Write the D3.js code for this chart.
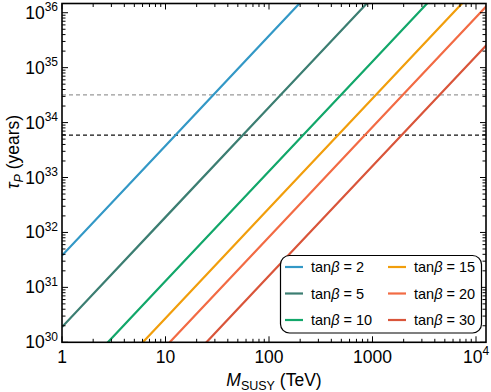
<!DOCTYPE html>
<html><head><meta charset="utf-8">
<script src="https://cdn.jsdelivr.net/npm/d3@7"></script>
<style>body{margin:0;background:#fff}svg{display:block}text{font-family:"Liberation Sans",Arial,sans-serif}</style>
</head><body><svg id="c" width="491" height="392"></svg>
<script>
// Data
const masses = [1, 10, 100, 1000, 10000, 100000];           // M_SUSY (TeV)
const tanBetaLabels = ["2", "5", "10", "15", "20", "30"];
const tau_tb2  = [3.8e31, 3.8e33, 3.8e35, 3.8e37, 3.8e39, 3.8e41];
const tau_tb5  = [1.9e30, 1.9e32, 1.9e34, 1.9e36, 1.9e38, 1.9e40];
const tau_tb10 = [1.3e29, 1.3e31, 1.3e33, 1.3e35, 1.3e37, 1.3e39];
const tau_tb15 = [2.75e28, 2.75e30, 2.75e32, 2.75e34, 2.75e36, 2.75e38];
const tau_tb20 = [8.3e27, 8.3e29, 8.3e31, 8.3e33, 8.3e35, 8.3e37];
const tau_tb30 = [1.62e27, 1.62e29, 1.62e31, 1.62e33, 1.62e35, 1.62e37];
const boundSK = 5.9e33;   // black dashed
const boundHK = 3.2e34;   // gray dashed
const xTickVals = [1, 10, 100, 1000, 10000];
const xTickLabels = ["1", "10", "100", "1000", "10^4"];
const yTickVals = [1e30, 1e31, 1e32, 1e33, 1e34, 1e35, 1e36];
const yTickLabels = ["30", "31", "32", "33", "34", "35", "36"];
const colors = ["#3398c6", "#3c7e72", "#12a76a", "#f19e0c", "#f26b44", "#d9553a"];

const seriesVals = [tau_tb2, tau_tb5, tau_tb10, tau_tb15, tau_tb20, tau_tb30];
const svg = d3.select("#c");
const L = 62, R = 486, T = 3.5, B = 342.3;
const x = d3.scaleLog().domain([1, Math.pow(10, (R - L) / 103.5)]).range([L, R]);
const y = d3.scaleLog().domain([1e30, Math.pow(10, 30 + (B - T) / 54.93)]).range([B, T]);

svg.append("defs").append("clipPath").attr("id", "clip")
  .append("rect").attr("x", L).attr("y", T).attr("width", R - L).attr("height", B - T);

const plot = svg.append("g").attr("clip-path", "url(#clip)");
// bound lines
plot.append("line").attr("x1", L).attr("x2", R).attr("y1", y(boundHK)).attr("y2", y(boundHK))
  .attr("stroke", "#999").attr("stroke-width", 1.3).attr("stroke-dasharray", "4,3");
plot.append("line").attr("x1", L).attr("x2", R).attr("y1", y(boundSK)).attr("y2", y(boundSK))
  .attr("stroke", "#111").attr("stroke-width", 1.3).attr("stroke-dasharray", "4,3");

const line = d3.line().x(d => x(d[0])).y(d => y(d[1]));
seriesVals.forEach((vals, i) => {
  plot.append("path").datum(masses.map((m, j) => [m, vals[j]]))
    .attr("d", line).attr("fill", "none").attr("stroke", colors[i]).attr("stroke-width", 2.2);
});

// ticks (inward, all sides)
const axG = svg.append("g").attr("stroke", "#000").attr("stroke-width", 1);
const xMinor = [];
for (let e = 0; e <= 4; e++) for (let k = 1; k <= 9; k++) { const v = k * Math.pow(10, e); if (v <= x.domain()[1]) xMinor.push(v); }
xMinor.forEach(v => {
  const major = xTickVals.includes(v);
  const len = major ? 6 : 3.5;
  const px = x(v);
  axG.append("line").attr("x1", px).attr("x2", px).attr("y1", B).attr("y2", B - len);
  axG.append("line").attr("x1", px).attr("x2", px).attr("y1", T).attr("y2", T + len);
});
const yMinor = [];
for (let e = 30; e <= 36; e++) for (let k = 1; k <= 9; k++) { const v = k * Math.pow(10, e); if (v <= y.domain()[1]) yMinor.push(v); }
yMinor.forEach(v => {
  const major = (v / Math.pow(10, Math.floor(Math.log10(v) + 1e-9))) < 1.0001;
  const len = major ? 6 : 3.5;
  const py = y(v);
  axG.append("line").attr("y1", py).attr("y2", py).attr("x1", L).attr("x2", L + len);
  axG.append("line").attr("y1", py).attr("y2", py).attr("x1", R).attr("x2", R - len);
});
svg.append("rect").attr("x", L).attr("y", T).attr("width", R - L).attr("height", B - T)
  .attr("fill", "none").attr("stroke", "#000").attr("stroke-width", 1.6);

// x tick labels
xTickVals.forEach((v, i) => {
  const lab = xTickLabels[i];
  const t = svg.append("text").attr("x", x(v)).attr("y", 362.5).attr("text-anchor", "middle")
    .attr("font-size", 17.5).attr("fill", "#000");
  if (lab.includes("^")) {
    const [b, e] = lab.split("^");
    t.append("tspan").text(b);
    t.append("tspan").attr("dy", -7.5).attr("font-size", 12).text(e);
  } else t.text(lab);
});
// y tick labels
yTickVals.forEach((v, i) => {
  const t = svg.append("text").attr("x", 58).attr("y", y(v) + 6).attr("text-anchor", "end")
    .attr("font-size", 17.5).attr("fill", "#000");
  t.append("tspan").text("10");
  t.append("tspan").attr("dy", -7.5).attr("font-size", 12).text(yTickLabels[i]);
});

// axis titles
const xt = svg.append("text").attr("x", 274).attr("y", 386).attr("text-anchor", "middle").attr("font-size", 17.5);
xt.append("tspan").attr("font-style", "italic").text("M");
xt.append("tspan").attr("font-size", 12.5).attr("dy", 4).text("SUSY");
xt.append("tspan").attr("dy", -4).text(" (TeV)");

const yt = svg.append("text").attr("transform", "translate(19,152) rotate(-90)").attr("text-anchor", "middle").attr("font-size", 17.5);
yt.append("tspan").attr("font-style", "italic").text("τ");
yt.append("tspan").attr("font-style", "italic").attr("font-size", 12.5).attr("dy", 4).text("P");
yt.append("tspan").attr("dy", -4).text(" (years)");

// legend
const lg = svg.append("g");
lg.append("rect").attr("x", 280.5).attr("y", 255.5).attr("width", 201).attr("height", 77.5)
  .attr("rx", 9).attr("fill", "#fff").attr("stroke", "#000").attr("stroke-width", 1.2);
const rowsY = [267, 293.5, 320];
tanBetaLabels.forEach((lab, i) => {
  const col = Math.floor(i / 3), row = i % 3;
  const sx = col === 0 ? 285 : 388;
  const yy = rowsY[row];
  lg.append("line").attr("x1", sx).attr("x2", sx + 18).attr("y1", yy).attr("y2", yy)
    .attr("stroke", colors[i]).attr("stroke-width", 2.2);
  const t = lg.append("text").attr("x", sx + 26).attr("y", yy + 5).attr("font-size", 14.5).attr("fill", "#000");
  t.append("tspan").text("tan");
  t.append("tspan").attr("font-style", "italic").text("β");
  t.append("tspan").text(" = " + lab);
});
</script></body></html>
